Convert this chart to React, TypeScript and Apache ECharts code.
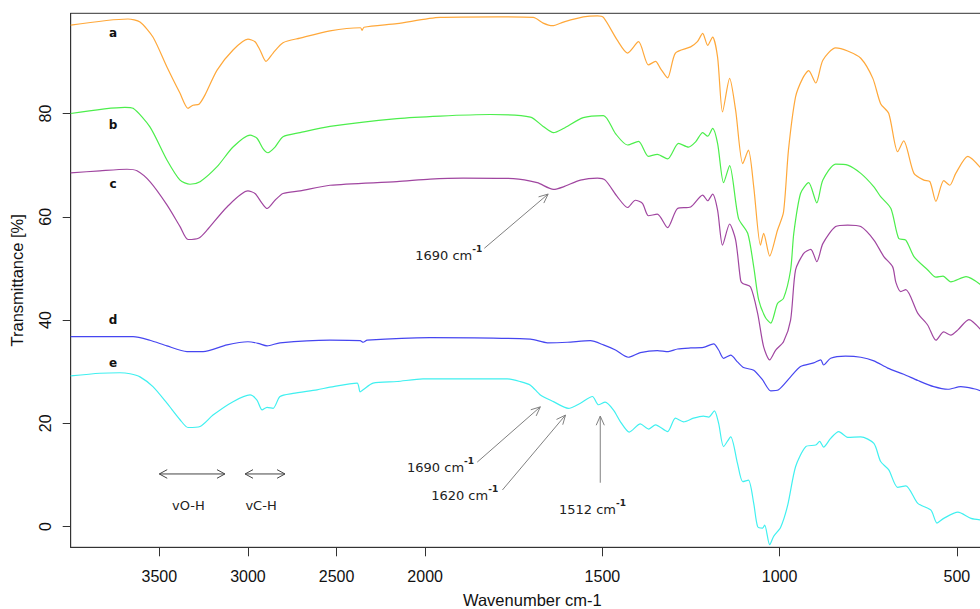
import React, { useEffect, useRef } from "react";
import * as echarts from "echarts";

type Pt = [number, number];

// Wavenumber axis (cm-1) with 2x expansion below 2000 cm-1
const xTickWavenumbers = [3500, 3000, 2500, 2000, 1500, 1000, 500];
const yTickValues = [0, 20, 40, 60, 80];
const seriesNames = ["a", "b", "c", "d", "e"];
const seriesColors = ["#FFA83A", "#4CEE4C", "#A046A0", "#4646F0", "#40F0F0"];

const specA: Pt[] = [
  [4000, 97.1], [3677, 98.3], [3609, 97.7], [3536, 94.8], [3457, 89.0], [3383, 83.9], [3338, 81.0], [3310, 81.6],
  [3276, 81.8], [3242, 83.6], [3174, 88.4], [3084, 92.3], [3000, 94.4], [2960, 93.9], [2932, 92.3], [2898, 90.1],
  [2858, 91.7], [2802, 93.7], [2706, 94.6], [2537, 96.0], [2365, 96.6], [2356, 96.1], [2345, 96.7], [2159, 97.4],
  [1958, 98.6], [1797, 98.7], [1695, 98.6], [1667, 97.5], [1641, 97.0], [1610, 97.7], [1554, 98.7], [1514, 98.9],
  [1497, 98.6], [1458, 94.2], [1429, 91.7], [1398, 93.9], [1370, 89.4], [1350, 90.1], [1336, 88.7], [1316, 86.9],
  [1294, 91.7], [1251, 92.9], [1232, 93.9], [1217, 95.5], [1203, 93.2], [1189, 94.8], [1175, 90.9], [1161, 80.3],
  [1141, 86.8], [1124, 80.6], [1104, 70.3], [1088, 72.9], [1073, 65.8], [1054, 54.5], [1045, 56.8], [1028, 52.4],
  [1006, 57.4], [989, 60.9], [975, 72.9], [955, 83.2], [935, 86.8], [918, 88.3], [898, 85.9], [878, 90.3],
  [842, 92.7], [808, 92.1], [771, 90.7], [737, 86.8], [715, 81.9], [692, 80.0], [667, 72.6], [650, 74.7],
  [621, 68.4], [593, 67.1], [576, 66.8], [559, 63.0], [537, 67.0], [520, 66.1], [503, 68.4], [469, 71.7], [432, 69.4],
];

const specB: Pt[] = [
  [4000, 80.0], [3694, 81.2], [3648, 81.0], [3553, 77.4], [3457, 71.0], [3383, 67.1], [3327, 66.3], [3270, 66.8],
  [3174, 69.7], [3084, 73.5], [2988, 75.8], [2949, 75.2], [2915, 73.2], [2887, 72.4], [2847, 73.5], [2802, 75.5],
  [2706, 76.3], [2537, 77.5], [2159, 79.0], [1958, 79.5], [1816, 79.8], [1703, 79.3], [1667, 77.5], [1638, 76.3],
  [1610, 77.1], [1554, 79.2], [1497, 79.6], [1463, 76.1], [1429, 73.9], [1398, 74.6], [1370, 71.7], [1345, 72.1],
  [1316, 71.2], [1285, 74.2], [1257, 73.5], [1237, 74.5], [1217, 76.3], [1203, 75.6], [1189, 77.1], [1175, 74.2],
  [1158, 66.6], [1141, 69.9], [1116, 59.7], [1090, 56.8], [1073, 50.3], [1059, 43.9], [1040, 40.5], [1025, 39.4],
  [1006, 43.2], [989, 44.2], [969, 49.7], [960, 56.8], [941, 64.5], [918, 66.6], [895, 62.7], [878, 67.1],
  [842, 70.2], [808, 70.0], [771, 68.4], [734, 65.8], [715, 63.9], [686, 61.6], [664, 55.8], [644, 55.5],
  [621, 52.3], [582, 49.7], [559, 48.3], [539, 48.5], [517, 47.4], [474, 48.4], [432, 46.8],
];

const specC: Pt[] = [
  [4000, 68.5], [3835, 68.9], [3682, 69.2], [3626, 68.9], [3553, 66.8], [3457, 62.3], [3383, 58.1], [3338, 55.6],
  [3276, 55.9], [3231, 57.4], [3118, 61.9], [3000, 65.0], [2960, 64.5], [2920, 62.6], [2892, 61.6], [2847, 63.2],
  [2802, 64.5], [2706, 65.0], [2537, 66.1], [2159, 66.8], [1986, 67.3], [1893, 67.5], [1751, 67.4], [1684, 66.6],
  [1638, 65.3], [1610, 65.8], [1562, 67.1], [1514, 67.5], [1492, 67.1], [1458, 63.9], [1429, 61.8], [1407, 63.2],
  [1387, 62.6], [1370, 60.2], [1345, 60.5], [1316, 57.9], [1288, 61.6], [1251, 61.9], [1217, 64.2], [1203, 63.1],
  [1189, 64.4], [1175, 61.3], [1161, 54.5], [1141, 58.6], [1124, 55.5], [1110, 47.7], [1104, 47.1], [1082, 46.4],
  [1062, 41.3], [1045, 34.8], [1028, 32.3], [1011, 34.2], [989, 35.8], [969, 40.0], [955, 49.7], [932, 52.9],
  [912, 53.7], [895, 51.3], [878, 54.8], [842, 58.1], [808, 58.4], [771, 58.1], [734, 55.5], [706, 52.3],
  [681, 50.3], [672, 47.3], [658, 45.5], [644, 45.9], [610, 41.3], [582, 39.0], [559, 36.1], [537, 37.7],
  [517, 37.1], [497, 38.1], [466, 40.1], [432, 38.1],
];

const specD: Pt[] = [
  [4000, 36.8], [3648, 36.8], [3553, 36.1], [3457, 35.0], [3344, 33.9], [3253, 33.9], [3118, 35.2], [3000, 35.8],
  [2943, 35.5], [2892, 35.0], [2819, 35.6], [2537, 36.1], [2367, 36.0], [2350, 35.7], [2327, 36.1], [1986, 36.6],
  [1703, 36.3], [1655, 35.6], [1599, 35.7], [1534, 36.0], [1497, 35.2], [1463, 34.2], [1427, 32.8], [1393, 33.7],
  [1345, 34.1], [1314, 33.9], [1288, 34.4], [1251, 34.6], [1215, 34.7], [1186, 35.4], [1172, 34.2], [1158, 32.6],
  [1138, 33.2], [1119, 31.9], [1102, 30.8], [1073, 30.3], [1048, 28.4], [1025, 26.3], [1003, 26.5], [969, 29.0],
  [941, 31.0], [904, 31.7], [884, 32.3], [876, 31.3], [856, 32.6], [814, 33.0], [771, 32.8], [734, 32.1],
  [695, 30.7], [650, 29.5], [610, 28.3], [565, 27.1], [525, 26.6], [489, 27.1], [452, 26.7], [432, 26.3],
];

const specE: Pt[] = [
  [4000, 29.2], [3835, 29.7], [3722, 29.8], [3665, 29.6], [3609, 29.0], [3536, 27.1], [3457, 23.9], [3383, 20.7],
  [3338, 19.2], [3270, 19.4], [3197, 21.6], [3084, 24.2], [2988, 25.5], [2949, 24.5], [2920, 22.6], [2892, 23.1],
  [2858, 22.9], [2819, 25.2], [2746, 25.8], [2610, 26.5], [2537, 27.0], [2384, 27.8], [2367, 26.1], [2350, 26.5],
  [2294, 27.8], [2159, 28.1], [2012, 28.6], [1938, 28.6], [1768, 28.6], [1732, 28.1], [1703, 27.4], [1675, 25.5],
  [1638, 24.2], [1596, 22.9], [1562, 23.9], [1528, 25.2], [1511, 23.6], [1492, 24.1], [1469, 22.6], [1449, 20.3],
  [1424, 18.3], [1393, 19.9], [1370, 18.9], [1350, 19.7], [1316, 18.4], [1294, 21.0], [1271, 20.3], [1243, 21.0],
  [1215, 21.4], [1200, 21.2], [1184, 22.4], [1172, 20.0], [1158, 15.5], [1138, 17.4], [1119, 12.3], [1104, 8.7],
  [1088, 9.0], [1073, 4.5], [1062, 0.0], [1048, -0.3], [1042, 0.3], [1028, -3.5], [1017, -1.9], [997, -0.1],
  [977, 4.2], [955, 11.6], [926, 15.5], [898, 15.8], [887, 16.5], [876, 15.4], [856, 17.1], [833, 18.4],
  [808, 17.3], [771, 17.4], [734, 16.1], [715, 12.6], [692, 11.0], [667, 7.6], [644, 7.9], [610, 4.5],
  [573, 3.2], [556, 0.7], [537, 1.6], [497, 2.8], [460, 1.6], [432, 1.3],
];

const spectra: Pt[][] = [specA, specB, specC, specD, specE];

// curve letters placed in data coordinates [wavenumber, %T]
const curveLabelPos: Pt[] = [[3761, 95.5], [3761, 77.7], [3761, 66.3], [3761, 40.0], [3761, 31.6]];

// stretching-band range arrows
const bandNames = ["vO-H", "vC-H"];
const bandFrom = [3500, 3016];
const bandTo = [3130, 2791];
const bandArrowY = 10.2;
const bandLabelW = [3336, 2926];
const bandLabelY = 4.0;

// peak annotations
const peakTexts = ["1690", "1690", "1620", "1512"];
const peakTail: Pt[] = [[1833, 53.9], [1853, 12.5], [1782, 7.1], [1506, 8.5]];
const peakHead: Pt[] = [[1653, 64.4], [1675, 23.2], [1604, 21.6], [1506, 21.4]];
const peakAnchor: Pt[] = [[1839, 52.9], [1862, 11.9], [1794, 6.5], [1528, 3.8]];
const peakAlign = ["right", "right", "right", "center"];

const X_MAX = 5142;

function toT(w: number): number {
  return w >= 2000 ? 4000 - w : 2000 + 2 * (2000 - w);
}
function fromT(t: number): number {
  return t <= 2000 ? 4000 - t : 2000 - (t - 2000) / 2;
}

export default function App() {
  const ref = useRef<HTMLDivElement>(null);
  useEffect(() => {
    const el = ref.current!;
    const chart = echarts.init(el, null, { renderer: "svg" });
    const font = "'Liberation Sans', Arial, sans-serif";
    const axisColor = "#333";
    const option: any = {
      animation: false,
      backgroundColor: "#ffffff",
      grid: {
        left: 70.7, right: -2, top: 13.3, bottom: 61.7,
        containLabel: false, outerBoundsMode: "none",
        show: true, borderColor: axisColor, borderWidth: 1, backgroundColor: "transparent",
      },
      xAxis: {
        type: "value", min: 0, max: X_MAX,
        name: "Wavenumber cm-1", nameLocation: "middle", nameGap: 44,
        nameTextStyle: { fontFamily: font, fontSize: 16.5, color: "#111", padding: [0, 0, 0, 12] },
        axisLine: { show: true, onZero: false, lineStyle: { color: axisColor, width: 1 } },
        axisTick: { show: true, length: 9, customValues: xTickWavenumbers.map(toT), lineStyle: { color: axisColor } },
        axisLabel: {
          customValues: xTickWavenumbers.map(toT),
          formatter: (v: number) => String(Math.round(fromT(v))),
          margin: 21, fontSize: 16, color: "#111", fontFamily: font,
        },
        splitLine: { show: false },
      },
      yAxis: {
        type: "value", min: -4, max: 99.4,
        name: "Transmittance [%]", nameLocation: "middle", nameGap: 45,
        nameTextStyle: { fontFamily: font, fontSize: 16.5, color: "#111" },
        axisLine: { show: true, onZero: false, lineStyle: { color: axisColor, width: 1 } },
        axisTick: { show: true, length: 8, customValues: yTickValues, lineStyle: { color: axisColor } },
        axisLabel: { customValues: yTickValues, rotate: 90, margin: 17, fontSize: 16, color: "#111", fontFamily: font },
        splitLine: { show: false },
      },
      series: spectra.map((s, i) => ({
        name: seriesNames[i],
        type: "line",
        symbol: "none",
        showSymbol: false,
        smooth: 0.25,
        lineStyle: { color: seriesColors[i], width: 1.2 },
        itemStyle: { color: seriesColors[i] },
        data: s.map(([w, y]) => [toT(w), y]),
        z: 2,
      })),
    };
    chart.setOption(option);

    const px = (w: number, y: number): number[] =>
      chart.convertToPixel({ gridIndex: 0 } as any, [toT(w), y]) as number[];

    const head = (tip: number[], from: number[], len: number, ang: number) => {
      const a = Math.atan2(from[1] - tip[1], from[0] - tip[0]);
      return [
        [tip[0] + len * Math.cos(a + ang), tip[1] + len * Math.sin(a + ang)],
        [tip[0], tip[1]],
        [tip[0] + len * Math.cos(a - ang), tip[1] + len * Math.sin(a - ang)],
      ];
    };

    const graphics: any[] = [];
    const annFont = "'DejaVu Sans', Verdana, sans-serif";

    curveLabelPos.forEach((p, i) => {
      const q = px(p[0], p[1]);
      graphics.push({
        type: "text", x: q[0], y: q[1], z: 10,
        style: { text: seriesNames[i], fontFamily: annFont, fontWeight: "bold", fontSize: 12, fill: "#111", align: "center", verticalAlign: "middle" },
      });
    });

    bandNames.forEach((name, i) => {
      const a = px(bandFrom[i], bandArrowY);
      const b = px(bandTo[i], bandArrowY);
      const dark = "#444";
      graphics.push({ type: "line", z: 10, shape: { x1: a[0], y1: a[1], x2: b[0], y2: b[1] }, style: { stroke: dark, lineWidth: 1 } });
      graphics.push({ type: "polyline", z: 10, shape: { points: head(a, b, 9, 0.5) }, style: { stroke: dark, lineWidth: 1, fill: null } });
      graphics.push({ type: "polyline", z: 10, shape: { points: head(b, a, 9, 0.5) }, style: { stroke: dark, lineWidth: 1, fill: null } });
      const l = px(bandLabelW[i], bandLabelY);
      graphics.push({
        type: "text", x: l[0], y: l[1], z: 10,
        style: { text: name, fontFamily: annFont, fontSize: 13, fill: "#222", align: "center", verticalAlign: "middle" },
      });
    });

    peakTexts.forEach((t, i) => {
      const tl = px(peakTail[i][0], peakTail[i][1]);
      const hd = px(peakHead[i][0], peakHead[i][1]);
      const gray = "#808080";
      graphics.push({ type: "line", z: 10, shape: { x1: tl[0], y1: tl[1], x2: hd[0], y2: hd[1] }, style: { stroke: gray, lineWidth: 1 } });
      graphics.push({ type: "polyline", z: 10, shape: { points: head(hd, tl, 10, 0.42) }, style: { stroke: gray, lineWidth: 1, fill: null } });
      const an = px(peakAnchor[i][0], peakAnchor[i][1]);
      graphics.push({
        type: "text", x: an[0], y: an[1], z: 10,
        style: {
          text: `{n|${t} cm}{s|-1}`,
          align: peakAlign[i], verticalAlign: "middle",
          rich: {
            n: { fontFamily: annFont, fontSize: 13, fill: "#222", color: "#222", lineHeight: 18, verticalAlign: "bottom" },
            s: { fontFamily: annFont, fontSize: 9, fontWeight: "bold", fill: "#222", color: "#222", lineHeight: 10, verticalAlign: "top" },
          },
        },
      });
    });

    chart.setOption({ graphic: graphics });

    return () => chart.dispose();
  }, []);

  return (
    <div
      ref={ref}
      style={{ position: "fixed", left: 0, top: 0, width: 980, height: 609, background: "#fff" }}
    />
  );
}
